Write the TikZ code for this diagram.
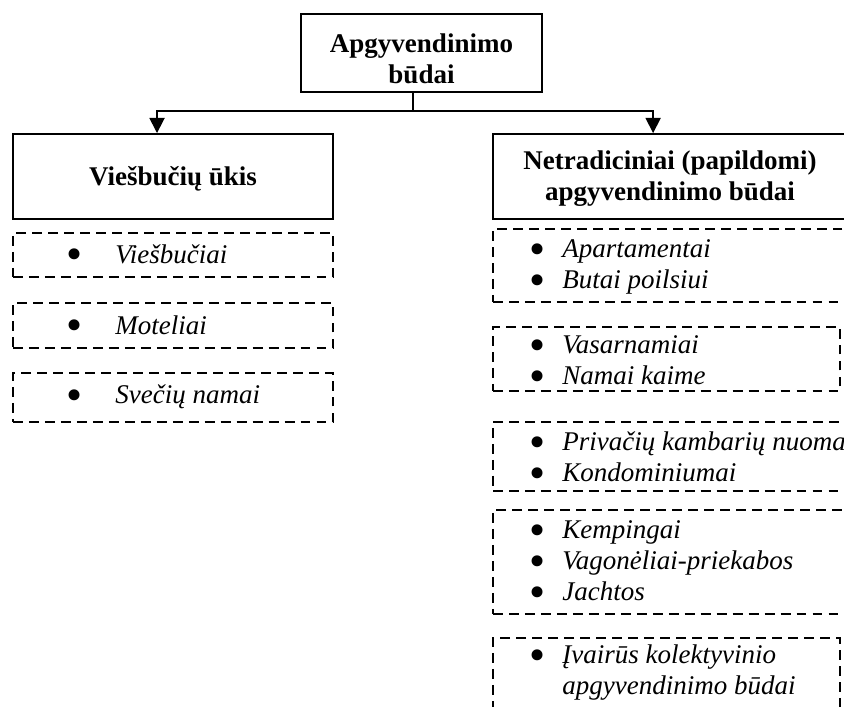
\documentclass[tikz,border=0pt]{standalone}
\usepackage{fontspec}
\usepackage{graphicx}
\setmainfont{Liberation Serif}
\usetikzlibrary{arrows.meta}
\newcommand\bigdot{\smash{\raisebox{-3pt}{\scalebox{1.7}{\textbullet}}}}
\newcommand\itm[1]{\makebox[14.2pt][l]{\hspace*{-0.6pt}\bigdot}\textit{#1}}
\newcommand\litm[1]{\makebox[21.3pt][l]{\hspace*{-0.6pt}\bigdot}\textit{#1}}
\tikzset{
  headbox/.style={draw, line width=0.8pt, inner sep=0pt},
  headtext/.style={font=\fontsize{12}{13.8}\selectfont\bfseries, align=center, inner sep=0pt},
  dbox/.style={draw, line width=0.9pt, dash pattern=on 4.4pt off 2.7pt, inner sep=0pt},
  items/.style={anchor=west, inner sep=0pt, align=left, font=\fontsize{12}{13.8}\selectfont},
  arr/.style={line width=0.7pt, -{Triangle[length=6.7pt,width=6.7pt]}},
}
\begin{document}
\begin{tikzpicture}[x=0.4444pt,y=-0.4444pt]
    \useasboundingbox (0,0) rectangle (844,707);
    \clip (0,0) rectangle (844,707);
    %% headings
    \node[headbox, minimum width=107.1pt, minimum height=34.7pt] (kinds) at (421.5,53) {};
    \node[headbox, minimum width=142.2pt, minimum height=37.8pt] (hotel) at (173,176.5) {};
    \node[headbox, minimum width=157.3pt, minimum height=37.8pt] (other) at (670,176.5) {};
    \node[headtext] (kindst) at (421.5,59) {Apgyvendinimo\\būdai};
    \node[headtext] (hotelt) at (173,179) {Viešbučių ūkis};
    \node[headtext] (othert) at (670,179) {Netradiciniai (papildomi)\\apgyvendinimo būdai};
    %% arrows
    \draw[line width=0.7pt] ([xshift=-3.8pt]kinds.south) -- ++(0,18) coordinate (fork);
    \draw[arr] (fork) -| ([xshift=-7.1pt]hotel.north);
    \draw[arr] (fork) -| ([xshift=-7.5pt]other.north);
    %% hotel list
    \node[dbox, minimum width=142.2pt, minimum height=19.6pt] (h1) at (173,255) {};
    \node[dbox, minimum width=142.2pt, minimum height=20pt] (h2) at (173,325.5) {};
    \node[dbox, minimum width=142.2pt, minimum height=21.8pt] (h3) at (173,397.5) {};
    \node[items] (h1t) at (67,254) {\litm{Viešbučiai}};
    \node[items] (h2t) at (67,325) {\litm{Moteliai}};
    \node[items] (h3t) at (67,397) {\litm{Svečių namai}};
    %% other list
    \node[dbox, minimum width=157.3pt, minimum height=32.4pt] (n1) at (670,265.5) {};
    \node[dbox, minimum width=154.2pt, minimum height=28.4pt] (n2) at (666.5,359) {};
    \node[dbox, minimum width=157.3pt, minimum height=30.7pt] (n3) at (670,456.5) {};
    \node[dbox, minimum width=157.3pt, minimum height=46.2pt] (n4) at (670,562) {};
    \node[dbox, minimum width=154.2pt, minimum height=32.9pt] (n5) at (666.5,675) {};
    \node[items] (n1t) at (530,267) {\itm{Apartamentai}\\\itm{Butai poilsiui}};
    \node[items] (n2t) at (530,360) {\itm{Vasarnamiai}\\\itm{Namai kaime}};
    \node[items] (n3t) at (530,457) {\itm{Privačių kambarių nuoma}\\\itm{Kondominiumai}};
    \node[items] (n4t) at (530,561) {\itm{Kempingai}\\\itm{Vagonėliai-priekabos}\\\itm{Jachtos}};
    \node[items] (n5t) at (530,673) {\itm{Įvairūs kolektyvinio}\\\hspace*{14.2pt}\textit{apgyvendinimo būdai}};
\end{tikzpicture}
\end{document}
